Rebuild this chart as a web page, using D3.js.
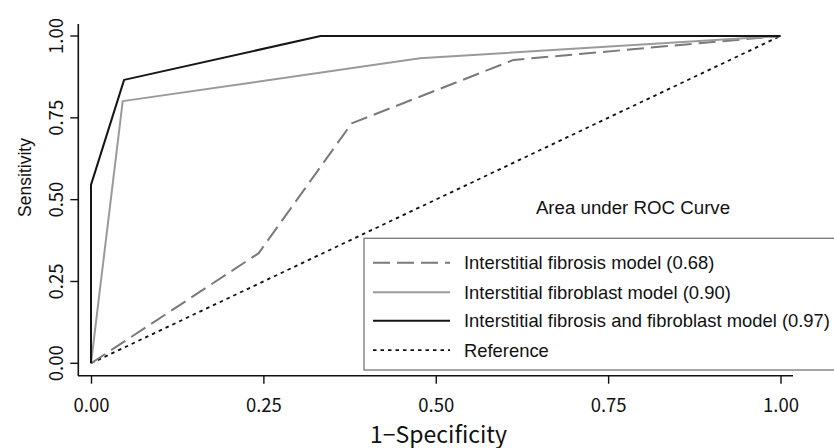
<!DOCTYPE html>
<html><head><meta charset="utf-8">
<script src="https://cdn.jsdelivr.net/npm/d3@7"></script>
<style>body{margin:0;background:#fff}svg{display:block}</style>
</head><body>
<svg id="c" width="834" height="448"></svg>
<script>
const fibrosisX = [0, 0.243, 0.378, 0.613, 1];
const fibrosisY = [0, 0.336, 0.733, 0.927, 1];
const fibroblastX = [0, 0.046, 0.477, 1];
const fibroblastY = [0, 0.801, 0.932, 1];
const combinedX = [0, 0, 0.048, 0.333, 1];
const combinedY = [0, 0.545, 0.866, 1, 1];
const referenceX = [0, 1];
const referenceY = [0, 1];
const tickValues = [0, 0.25, 0.5, 0.75, 1];
const legendLabels = ["Interstitial fibrosis model (0.68)", "Interstitial fibroblast model (0.90)", "Interstitial fibrosis and fibroblast model (0.97)", "Reference"];

const svg = d3.select("#c");
const x = d3.scaleLinear().domain([0, 1]).range([91, 780.5]);
const y = d3.scaleLinear().domain([0, 1]).range([363.3, 36]);
const tickFont = "'Noto Sans CJK JP', 'Liberation Sans', sans-serif";
const sansFont = "'Liberation Sans', Arial, sans-serif";

// axes
const xAxis = svg.append("g").attr("transform", "translate(0,375.7)")
  .call(d3.axisBottom(x).tickValues(tickValues).tickFormat(d3.format(".2f")).tickSize(8).tickSizeOuter(0));
xAxis.select(".domain").attr("d", "M78,0H793").attr("stroke", "#111").attr("stroke-width", 1.6);
xAxis.selectAll(".tick line").attr("stroke", "#111").attr("stroke-width", 1.4);
xAxis.selectAll(".tick text").attr("font-family", tickFont).attr("font-size", 18.5).attr("fill", "#111")
  .attr("y", 36).attr("dy", null);

const yAxis = svg.append("g").attr("transform", "translate(78.3,0)")
  .call(d3.axisLeft(y).tickValues(tickValues).tickFormat(d3.format(".2f")).tickSize(8).tickSizeOuter(0));
yAxis.select(".domain").attr("d", "M0,24V375.7").attr("stroke", "#111").attr("stroke-width", 1.6);
yAxis.selectAll(".tick line").attr("stroke", "#111").attr("stroke-width", 1.4);
yAxis.selectAll(".tick text")
  .attr("font-family", tickFont).attr("font-size", 18.5).attr("fill", "#111")
  .attr("x", null).attr("dy", null)
  .attr("text-anchor", "middle")
  .attr("transform", d => `translate(-15.5,${y(d)}) rotate(-90)`)
  .attr("y", 0);
yAxis.selectAll(".tick").attr("transform", null);
yAxis.selectAll(".tick line").attr("transform", d => `translate(0,${y(d)})`);

// axis titles
svg.append("text").attr("x", 438.5).attr("y", 442.5).attr("text-anchor", "middle")
  .attr("font-family", tickFont).attr("font-size", 23).attr("fill", "#111").text("1\u2212Specificity");
svg.append("text").attr("transform", "translate(31,177.5) rotate(-90)").attr("text-anchor", "middle")
  .attr("font-family", sansFont).attr("font-size", 17.5).attr("fill", "#111").text("Sensitivity");

const line = d3.line().x(d => x(d[0])).y(d => y(d[1]));
const zip = (a, b) => a.map((v, i) => [v, b[i]]);
const series = [
  {pts: zip(fibrosisX, fibrosisY), color: "#7a7a7a", dash: "17,7", w: 2},
  {pts: zip(fibroblastX, fibroblastY), color: "#9a9a9a", dash: null, w: 2},
  {pts: zip(combinedX, combinedY), color: "#151515", dash: null, w: 2},
  {pts: zip(referenceX, referenceY), color: "#111", dash: "3.5,4", w: 1.8}
];
const drawOrder = [3, 0, 1, 2];
drawOrder.forEach(i => {
  const s = series[i];
  svg.append("path").datum(s.pts).attr("d", line).attr("fill", "none")
    .attr("stroke", s.color).attr("stroke-width", s.w)
    .attr("stroke-dasharray", s.dash).attr("stroke-linejoin", "round");
});

// AUC label
svg.append("text").attr("x", 633).attr("y", 214).attr("text-anchor", "middle")
  .attr("font-family", sansFont).attr("font-size", 18.7).attr("fill", "#111").text("Area under ROC Curve");

// legend
svg.append("rect").attr("x", 364).attr("y", 238.3).attr("width", 480).attr("height", 131.7)
  .attr("fill", "#fff").attr("stroke", "#777").attr("stroke-width", 1.3);
const rowY = [262.7, 292.2, 320.7, 350.2];
legendLabels.forEach((lab, i) => {
  const s = series[i];
  svg.append("line").attr("x1", 373).attr("x2", 450).attr("y1", rowY[i]).attr("y2", rowY[i])
    .attr("stroke", s.color).attr("stroke-width", s.w).attr("stroke-dasharray", s.dash);
  svg.append("text").attr("x", 464).attr("y", rowY[i]).attr("dy", "0.35em")
    .attr("font-family", sansFont).attr("font-size", 18.4).attr("fill", "#111").text(lab);
});
</script>
</body></html>
